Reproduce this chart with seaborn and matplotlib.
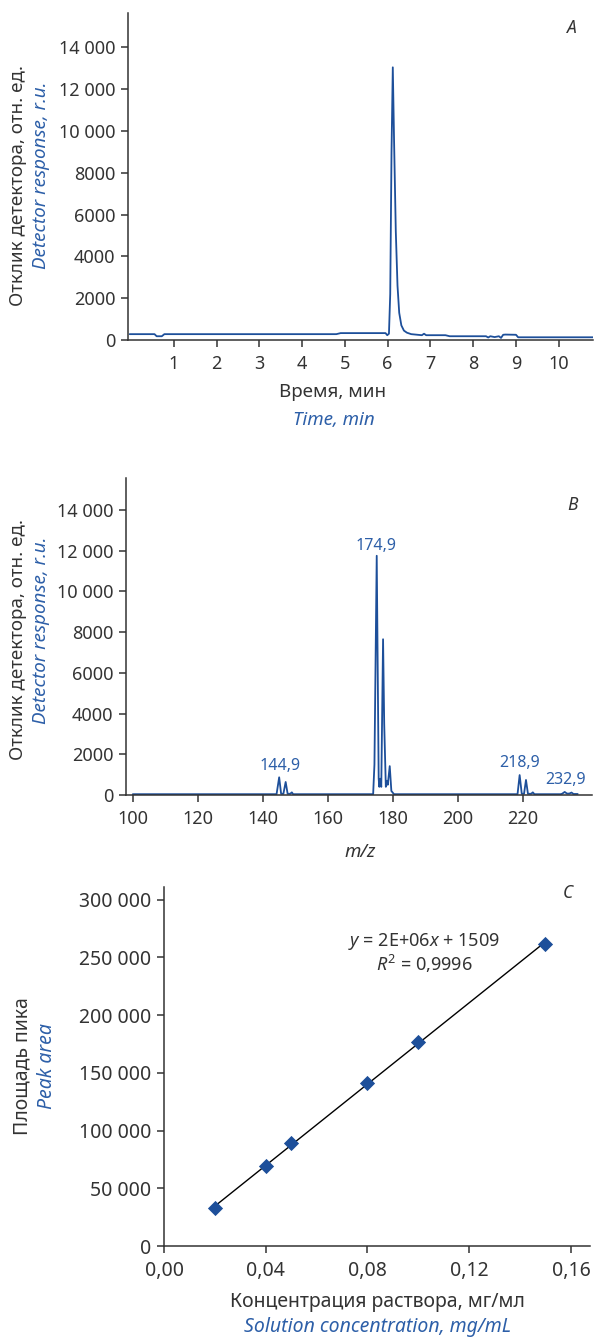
import numpy as np
import pandas as pd
import seaborn as sns
from matplotlib import pyplot as plt
from matplotlib.ticker import FixedLocator

# Panel A - chromatogram (time, min / detector response)
time_min = [-0.03, 0.55, 0.6, 0.72, 0.78, 4.8, 4.9, 5.95, 5.99, 6.03, 6.06, 6.09, 6.12, 6.15,
            6.19, 6.23, 6.27, 6.32, 6.38, 6.45, 6.55, 6.7, 6.8, 6.85, 6.9, 7.35, 7.45, 8.3,
            8.35, 8.4, 8.5, 8.6, 8.65, 8.7, 8.75, 9.0, 9.05, 10.8]
response_a = [280, 280, 180, 180, 280, 280, 330, 330, 230, 300, 2200, 9000, 13050, 9500,
              5200, 2600, 1300, 700, 450, 350, 280, 250, 230, 300, 230, 230, 180, 180,
              120, 180, 140, 180, 100, 250, 260, 250, 130, 130]

# Panel B - mass spectrum (m/z / detector response)
mz = [100, 144.2, 145.0, 145.6, 146.3, 147.0, 147.6, 148.4, 148.9, 149.3,
      173.9, 174.3, 175.0, 175.6, 175.8, 176.1, 176.4, 176.95, 177.3, 177.8, 178.1, 178.4,
      179.0, 179.5, 180.0, 180.3,
      218.3, 218.95, 219.6, 220.3, 220.9, 221.5, 222.5, 223.0, 223.5,
      231.5, 232.0, 232.8, 233.5, 234.2, 234.9, 235.5, 236.8]
response_b = [40, 40, 870, 60, 60, 640, 60, 60, 130, 40,
              40, 1500, 11750, 800, 400, 800, 400, 7650, 3500, 400, 700, 500,
              1420, 200, 100, 40,
              40, 980, 60, 60, 740, 60, 60, 130, 40,
              40, 60, 150, 70, 70, 120, 50, 50]
peak_labels = ["144,9", "174,9", "218,9", "232,9"]
peak_label_mz = [145.4, 174.9, 218.9, 233.0]
peak_label_y = [1400, 12250, 1550, 760]

# Panel C - calibration
conc = [0.02, 0.04, 0.05, 0.08, 0.10, 0.15]
area = [33000, 69000, 89000, 141000, 177000, 262000]

resp_ticks = [0, 2000, 4000, 6000, 8000, 10000, 12000, 14000]
resp_ticklabels = ["0", "2000", "4000", "6000", "8000", "10 000", "12 000", "14 000"]
area_ticks = [0, 50000, 100000, 150000, 200000, 250000, 300000]
area_ticklabels = ["0", "50 000", "100 000", "150 000", "200 000", "250 000", "300 000"]
conc_ticks = [0.0, 0.04, 0.08, 0.12, 0.16]
conc_ticklabels = ["0,00", "0,04", "0,08", "0,12", "0,16"]

BLUE = "#1d4f9a"
TBLUE = "#2d5fa8"
DARK = "#333333"

sns.set_theme(style="ticks")
plt.rcParams["font.family"] = ["Noto Sans", "DejaVu Sans"]
plt.rcParams["mathtext.fontset"] = "custom"
plt.rcParams["mathtext.rm"] = "Noto Sans"
plt.rcParams["mathtext.it"] = "Noto Sans:italic"
plt.rcParams["axes.edgecolor"] = DARK
plt.rcParams["xtick.color"] = DARK
plt.rcParams["ytick.color"] = DARK
plt.rcParams["text.color"] = DARK

fig = plt.figure(figsize=(5.95, 13.38), dpi=100)
W, H = 595, 1338


def add_ax(left, top, right, bottom):
    return fig.add_axes([left / W, 1 - bottom / H, (right - left) / W, (bottom - top) / H])


def style(ax, size):
    sns.despine(ax=ax)
    for s in ("left", "bottom"):
        ax.spines[s].set_linewidth(1.1)
    ax.tick_params(direction="out", length=5, width=1.1, labelsize=size, pad=4)
    ax.tick_params(axis="x", pad=6)
    ax.grid(False)
    ax.set_xlabel("")
    ax.set_ylabel("")


# figure pixel coords, origin top-left
def ftext(x, y, s, size=13.5, **kw):
    fig.text(x / W, 1 - y / H, s, ha="center", va="center", fontsize=size, **kw)


# ---- A
axA = add_ax(128, 13, 593, 340)
sns.lineplot(x=time_min, y=response_a, ax=axA, color=BLUE, lw=1.3, estimator=None, sort=False)
axA.set_xlim(-0.07, 10.8)
axA.set_ylim(0, 15650)
axA.xaxis.set_major_locator(FixedLocator(range(1, 11)))
axA.set_xticklabels([str(i) for i in range(1, 11)])
axA.yaxis.set_major_locator(FixedLocator(resp_ticks))
axA.set_yticklabels(resp_ticklabels)
style(axA, 13)

ftext(572, 28, "A", size=12.5, style="italic")
ftext(18, 185, "Отклик детектора, отн. ед.", rotation=90, color=DARK)
ftext(41, 175, "Detector response, r.u.", rotation=90, color=TBLUE, style="italic")
ftext(333, 392, "Время, мин", color=DARK)
ftext(334, 420, "Time, min", color=TBLUE, style="italic")

# ---- B
axB = add_ax(126, 478, 592, 795)
sns.lineplot(x=mz, y=response_b, ax=axB, color=BLUE, lw=1.3, estimator=None, sort=False)
axB.set_xlim(97.9, 241.2)
axB.set_ylim(0, 15570)
axB.xaxis.set_major_locator(FixedLocator([100, 120, 140, 160, 180, 200, 220]))
axB.set_xticklabels(["100", "120", "140", "160", "180", "200", "220"])
axB.yaxis.set_major_locator(FixedLocator(resp_ticks))
axB.set_yticklabels(resp_ticklabels)
style(axB, 13)
for lab, xm, ym in zip(peak_labels, peak_label_mz, peak_label_y):
    axB.text(xm, ym, lab, color=TBLUE, fontsize=11.5, ha="center", va="center")

ftext(572, 505, "B", size=12.5, style="italic")
ftext(18, 640, "Отклик детектора, отн. ед.", rotation=90, color=DARK)
ftext(41, 630, "Detector response, r.u.", rotation=90, color=TBLUE, style="italic")
ftext(360, 852, "m/z", color=DARK, style="italic")

# ---- C
axC = add_ax(164, 887, 590, 1246)
sns.regplot(x=conc, y=area, ax=axC, ci=None, truncate=True, marker="D",
            scatter_kws={"color": BLUE, "s": 60, "zorder": 3, "linewidths": 0, "alpha": 1},
            line_kws={"color": "black", "lw": 1.0, "zorder": 2})
axC.set_xlim(0, 0.1675)
axC.set_ylim(0, 311000)
axC.xaxis.set_major_locator(FixedLocator(conc_ticks))
axC.set_xticklabels(conc_ticklabels)
axC.yaxis.set_major_locator(FixedLocator(area_ticks))
axC.set_yticklabels(area_ticklabels)
style(axC, 14)

ftext(424, 942, r"$\mathit{y}$ = 2E+06$\mathit{x}$ + 1509", size=13)
ftext(424, 964, r"$\mathit{R}^2$ = 0,9996", size=13)
ftext(568, 893, "C", size=12.5, style="italic")
ftext(22, 1066, "Площадь пика", size=14, rotation=90, color=DARK)
ftext(47, 1066, "Peak area", size=14, rotation=90, color=TBLUE, style="italic")
ftext(377, 1302, "Концентрация раствора, мг/мл", size=14, color=DARK)
ftext(377, 1327, "Solution concentration, mg/mL", size=14, color=TBLUE, style="italic")

fig.savefig("out.png", dpi=100)
